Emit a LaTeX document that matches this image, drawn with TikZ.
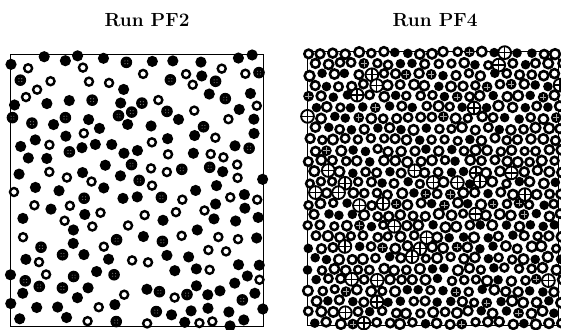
\documentclass[tikz,border=0pt]{standalone}
\newcount\npl
\begin{document}
\begin{tikzpicture}[x=1pt,y=-1pt,
  boxp/.style={draw=black,line width=1pt},
  fullp/.style={fill=black},
  ringp/.style={draw=black,line width=2.6pt,fill=white},
  lringp/.style={draw=black,line width=2.4pt,fill=white},
  crossp/.style={draw=black,line width=1.9pt,fill=white},
  crossbar/.style={draw=black,line width=1.4pt},
  dotp/.style={fill=black!45},
  title/.style={font=\fontsize{19}{22}\selectfont\bfseries}]
\useasboundingbox (0,0) rectangle (561,329);
\fill[white] (0,0) rectangle (561,329);
\node[title] (t1) at (147,20) {Run PF2};
\node[title] (t2) at (435,20) {Run PF4};
\pgfmathsetseed{4711}
% left panel: random sequential addition
\draw[boxp] (10,54) rectangle (263,326);
\global\npl=0
\foreach \a in {1,...,900}{
  \ifnum\npl<205
  \pgfmathsetmacro\px{10+253*rnd}
  \pgfmathsetmacro\py{54+272*rnd}
  \pgfmathtruncatemacro\ci{(\px-10)/8.5}
  \pgfmathtruncatemacro\cj{(\py-54)/8.5}
  \gdef\okflag{1}
  \foreach \di in {-2,...,2}{
    \foreach \dj in {-2,...,2}{
      \pgfmathtruncatemacro\ni{\ci+\di}
      \pgfmathtruncatemacro\nj{\cj+\dj}
      \ifcsname PX-\ni-\nj\endcsname
        \edef\qx{\csname PX-\ni-\nj\endcsname}
        \edef\qy{\csname PY-\ni-\nj\endcsname}
        \pgfmathparse{((\px-\qx)^2+(\py-\qy)^2)<156 ? 1 : 0}
        \ifnum\pgfmathresult>0 \gdef\okflag{0}\fi
      \fi
    }
  }
  \ifnum\okflag=1
    \global\advance\npl by 1
    \expandafter\xdef\csname PX-\ci-\cj\endcsname{\px}
    \expandafter\xdef\csname PY-\ci-\cj\endcsname{\py}
    \pgfmathsetmacro\t{rnd}
    \pgfmathtruncatemacro\k{\t<0.50 ? 1 : (\t<0.83 ? 2 : 3)}
    \ifcase\k
    \or \fill[fullp] (\px,\py) circle (5.6);
    \or \draw[lringp] (\px,\py) circle (4.0);
    \or \fill[fullp] (\px,\py) circle (5.8);
        \fill[dotp] (\px-1.4,\py-1.4) circle (0.55) (\px+1.4,\py-1.4) circle (0.55)
                    (\px-1.4,\py+1.4) circle (0.55) (\px+1.4,\py+1.4) circle (0.55);
    \fi
  \fi
  \fi
}
% right panel
\draw[boxp] (307,51) rectangle (558,325);
\foreach \i in {0,...,25}{
 \foreach \j in {0,...,20}{
  \pgfmathsetmacro\px{309+\j*12.3+mod(\i,2)*6.1+(rnd-0.5)*3.2}
  \pgfmathsetmacro\py{53+\i*10.8+(rnd-0.5)*3.0}
  \pgfmathsetmacro\t{rnd}
  \pgfmathsetmacro\rr{3.8+rnd*1.1}
  \pgfmathtruncatemacro\k{\t<0.66 ? 1 : (\t<0.86 ? 2 : (\t<0.94 ? 3 : 4))}
  \ifcase\k
  \or \draw[ringp] (\px,\py) circle (\rr);
  \or \fill[fullp] (\px,\py) circle (4.8);
  \or \draw[crossp] (\px,\py) circle (6.4);
      \draw[crossbar] (\px-6.4,\py) -- (\px+6.4,\py) (\px,\py-6.4) -- (\px,\py+6.4);
  \or \fill[fullp] (\px,\py) circle (5.4);
      \draw[draw=black!35,line width=0.6pt] (\px-3.2,\py) -- (\px+3.2,\py) (\px,\py-3.2) -- (\px,\py+3.2);
  \fi
 }
}
\end{tikzpicture}
\end{document}
